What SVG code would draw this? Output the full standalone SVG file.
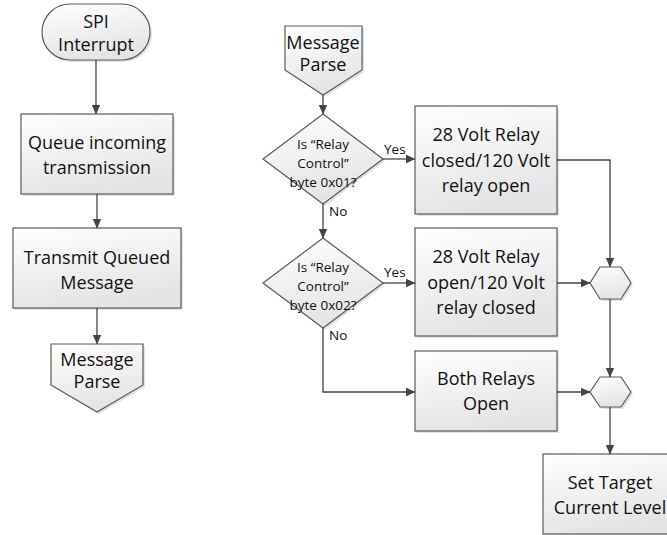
<svg xmlns="http://www.w3.org/2000/svg" width="667" height="535" viewBox="0 0 667 535">
<defs>
<linearGradient id="g" x1="0" y1="0" x2="0.3" y2="1">
<stop offset="0" stop-color="#ffffff"/>
<stop offset="1" stop-color="#e4e4e4"/>
</linearGradient>
<marker id="ah" markerWidth="10" markerHeight="10" refX="9" refY="5" orient="auto" markerUnits="userSpaceOnUse">
<path d="M0,0.8 L9.5,5 L0,9.2 Z" fill="#444"/>
</marker>
</defs>
<style>
.s{fill:url(#g);stroke:#5a5a5a;stroke-width:1.2}
.sh{fill:#e2e2e2;stroke:none}
.t{font-family:"Open Sans","Liberation Sans",sans-serif;font-size:18px;fill:#111;text-anchor:middle}
.d{font-family:"Open Sans","Liberation Sans",sans-serif;font-size:13.5px;fill:#111;text-anchor:middle}
.l{font-family:"Open Sans","Liberation Sans",sans-serif;font-size:13.5px;fill:#111}
.c{fill:none;stroke:#444;stroke-width:1.3;marker-end:url(#ah)}
</style>
<rect width="667" height="535" fill="#fff"/>

<g id="spi">
<rect class="sh" x="44" y="6" width="108" height="56" rx="28"/>
<rect class="s" x="42" y="4" width="108" height="56" rx="28"/>
<text class="t" x="96" y="28">SPI</text>
<text class="t" x="96" y="51">Interrupt</text>
</g>

<g id="queue">
<rect class="sh" x="23" y="116" width="152" height="80"/>
<rect class="s" x="21" y="114" width="152" height="80"/>
<text class="t" x="97" y="149">Queue incoming</text>
<text class="t" x="97" y="174">transmission</text>
</g>

<g id="transmit">
<rect class="sh" x="15" y="230" width="168" height="80"/>
<rect class="s" x="13" y="228" width="168" height="80"/>
<text class="t" x="97" y="264">Transmit Queued</text>
<text class="t" x="97" y="289">Message</text>
</g>

<g id="parse-out">
<path class="sh" d="M53,346 H145 V387 L99,414 L53,387 Z"/>
<path class="s" d="M51,344 H143 V385 L97,412 L51,385 Z"/>
<text class="t" x="97" y="366">Message</text>
<text class="t" x="97" y="388">Parse</text>
</g>

<g id="parse-in">
<path class="sh" d="M287,28 H364 V72 L325,97 L287,72 Z"/>
<path class="s" d="M285,26 H362 V70 L323,95 L285,70 Z"/>
<text class="t" x="323" y="49">Message</text>
<text class="t" x="323" y="71">Parse</text>
</g>

<g id="dec1">
<path class="sh" d="M325,116 L385,161 L325,206 L265,161 Z"/>
<path class="s" d="M323,114 L383,159 L323,204 L263,159 Z"/>
<text class="d" x="323" y="149">Is “Relay</text>
<text class="d" x="323" y="168">Control”</text>
<text class="d" x="323" y="187">byte 0x01?</text>
</g>

<g id="dec2">
<path class="sh" d="M325,240 L385,285 L325,330 L265,285 Z"/>
<path class="s" d="M323,238 L383,283 L323,328 L263,283 Z"/>
<text class="d" x="323" y="272">Is “Relay</text>
<text class="d" x="323" y="291">Control”</text>
<text class="d" x="323" y="310">byte 0x02?</text>
</g>

<g id="box1">
<rect class="sh" x="417" y="108" width="142" height="108"/>
<rect class="s" x="415" y="106" width="142" height="108"/>
<text class="t" x="486" y="141">28 Volt Relay</text>
<text class="t" x="486" y="167">closed/120 Volt</text>
<text class="t" x="486" y="192">relay open</text>
</g>

<g id="box2">
<rect class="sh" x="417" y="230" width="142" height="108"/>
<rect class="s" x="415" y="228" width="142" height="108"/>
<text class="t" x="486" y="263">28 Volt Relay</text>
<text class="t" x="486" y="289">open/120 Volt</text>
<text class="t" x="486" y="314">relay closed</text>
</g>

<g id="box3">
<rect class="sh" x="417" y="353" width="142" height="80"/>
<rect class="s" x="415" y="351" width="142" height="80"/>
<text class="t" x="486" y="385">Both Relays</text>
<text class="t" x="486" y="410">Open</text>
</g>

<g id="merge1">
<path class="sh" d="M592,285 L602,269 L623,269 L633,285 L623,301 L602,301 Z"/>
<path class="s" d="M590,283 L600,267 L621,267 L631,283 L621,299 L600,299 Z"/>
</g>

<g id="merge2">
<path class="sh" d="M592,394 L602,379 L623,379 L633,394 L623,409 L602,409 Z"/>
<path class="s" d="M590,392 L600,377 L621,377 L631,392 L621,407 L600,407 Z"/>
</g>

<g id="target">
<rect class="sh" x="545" y="456" width="134" height="80"/>
<rect class="s" x="543" y="454" width="134" height="80"/>
<text class="t" x="610" y="489">Set Target</text>
<text class="t" x="610" y="514">Current Level</text>
</g>

<g id="connectors">
<path class="c" d="M96,60 V114"/>
<path class="c" d="M97,194 V228"/>
<path class="c" d="M97,308 V344"/>
<path class="c" d="M323,95 V114"/>
<path class="c" d="M383,159 H415"/>
<path class="c" d="M323,204 V238"/>
<path class="c" d="M383,283 H415"/>
<path class="c" d="M323,328 V392 H415"/>
<path class="c" d="M557,160 H610 V267"/>
<path class="c" d="M557,283 H590"/>
<path class="c" d="M610,299 V377"/>
<path class="c" d="M557,392 H590"/>
<path class="c" d="M610,407 V454"/>
<text class="l" x="384" y="154">Yes</text>
<text class="l" x="384" y="277">Yes</text>
<text class="l" x="329" y="216">No</text>
<text class="l" x="329" y="340">No</text>
</g>
</svg>
